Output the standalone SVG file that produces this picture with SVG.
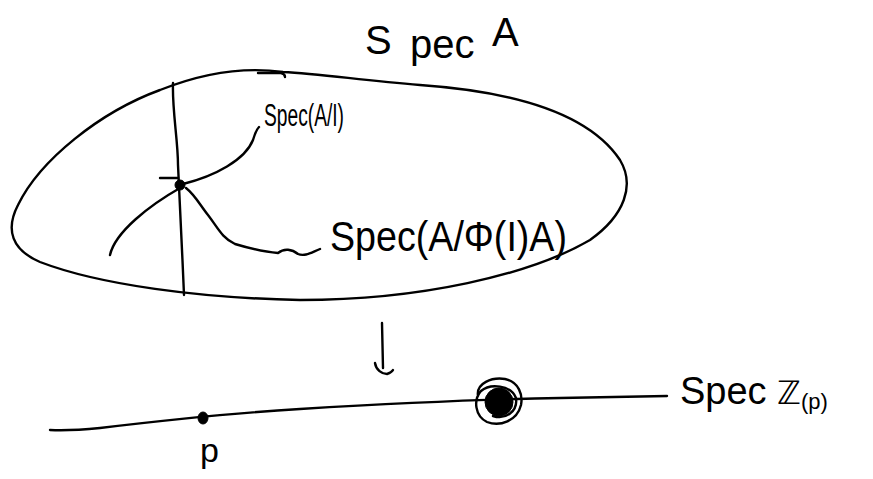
<svg xmlns="http://www.w3.org/2000/svg" width="873" height="479" viewBox="0 0 873 479">
<style>
.s{fill:none;stroke:#000;stroke-width:2.4;stroke-linecap:round;stroke-linejoin:round}
.t{font-family:"Liberation Sans","DejaVu Sans",sans-serif;fill:#000}
.dot{fill:#000;stroke:#000;stroke-width:1}
</style>
<rect width="873" height="479" fill="#fff"/>
<g id="spec-a">
  <path class="s" d="M 283,72 C 240,66 200,74 160,90 C 100,112 40,160 18,205 C 5,230 12,250 40,262 C 100,285 200,298 300,300 C 420,300 530,275 590,240 C 625,215 635,185 620,160 C 590,115 520,92 420,85 C 360,80 320,74 283,72 Z"/>
  <path class="s" d="M 258,73 L 281,73 Q 285,74 285,77"/>
  <text class="t" x="365" y="54" font-size="40">S<tspan x="410" y="58">pec</tspan><tspan x="483" y="46"> A</tspan></text>
</g>
<g id="spec-a-mod-i">
  <path class="s" d="M 173,83 C 172,110 178,140 178,165 C 180,200 182,250 184,295"/>
  <path class="s" d="M 183,184 C 215,176 245,160 253,140 Q 256,130 259,127"/>
  <path class="s" d="M 180,188 C 150,205 115,232 110,255"/>
  <path class="s" d="M 160,178 L 178,178"/>
  <ellipse class="dot" cx="180" cy="185" rx="5" ry="5"/>
  <text class="t" x="264" y="126" font-size="31" textLength="80" lengthAdjust="spacingAndGlyphs">Spec(A/I)</text>
</g>
<g id="spec-a-mod-phi">
  <path class="s" d="M 186,188 C 195,195 200,205 208,215 C 218,228 222,238 235,244 C 255,250 265,252 278,253 C 284,248 292,249 298,254 C 305,257 312,252 320,249"/>
  <text class="t" x="330" y="251" font-size="42" textLength="237" lengthAdjust="spacingAndGlyphs">Spec(A/Φ(I)A)</text>
</g>
<g id="spec-z">
  <path class="s" d="M 50,430 C 70,431 90,429 100,428 C 150,422 220,414 300,409 C 400,403 500,399 560,398 L 667,396"/>
  <text class="t" x="680" y="404" font-size="38">Spec <tspan font-family="DejaVu Sans, sans-serif" font-size="32">ℤ</tspan><tspan font-size="22" dy="5">(p)</tspan></text>
</g>
<g id="point-p">
  <ellipse class="dot" cx="203" cy="418" rx="5" ry="6"/>
  <text class="t" x="200" y="462" font-size="34">p</text>
</g>
<g id="point-0">
  <circle class="dot" cx="499" cy="402" r="14"/>
  <path class="s" d="M 478,396 C 476,383 492,377 505,379 C 519,382 523,395 521,405 C 517,421 500,427 487,422 C 475,416 473,400 481,391 C 490,383 511,385 516,398 C 518,412 505,420 493,416"/>
</g>
<g id="connectors">
  <path class="s" d="M 382,323 L 383,368"/>
  <path class="s" d="M 375,363 C 376,370 382,374 387,374 C 390,373 392,372 393,370"/>
</g>
</svg>
